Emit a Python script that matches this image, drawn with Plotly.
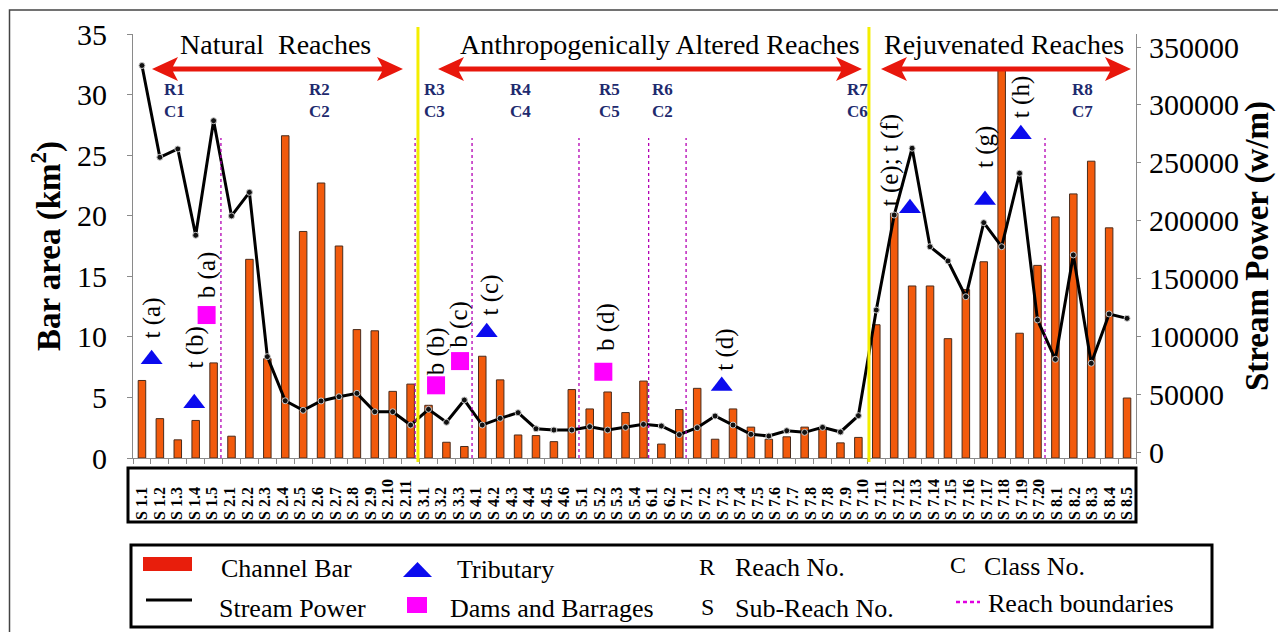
import plotly.graph_objects as go

# ---------------- data ----------------
sub_reaches = [
    "S 1.1", "S 1.2", "S 1.3", "S 1.4", "S 1.5",
    "S 2.1", "S 2.2", "S 2.3", "S 2.4", "S 2.5", "S 2.6", "S 2.7", "S 2.8", "S 2.9", "S 2.10", "S 2.11",
    "S 3.1", "S 3.2", "S 3.3",
    "S 4.1", "S 4.2", "S 4.3", "S 4.4", "S 4.5", "S 4.6",
    "S 5.1", "S 5.2", "S 5.3", "S 5.4",
    "S 6.1", "S 6.2",
    "S 7.1", "S 7.2", "S 7.3", "S 7.4", "S 7.5", "S 7.6", "S 7.7", "S 7.8", "S 7.9", "S 7.10",
    "S 7.11", "S 7.12", "S 7.13", "S 7.14", "S 7.15", "S 7.16", "S 7.17", "S 7.18", "S 7.19", "S 7.20",
    "S 8.1", "S 8.2", "S 8.3", "S 8.4", "S 8.5",
]

# labels exactly as printed in the table under the chart
table_labels = [
    "S 1.1", "S 1.2", "S 1.3", "S 1.4", "S 1.5",
    "S 2.1", "S 2.2", "S 2.3", "S 2.4", "S 2.5", "S 2.6", "S 2.7", "S 2.8", "S 2.9", "S 2.10", "S 2.11",
    "S 3.1", "S 3.2", "S 3.3",
    "S 4.1", "S 4.2", "S 4.3", "S 4.4", "S 4.5", "S 4.6",
    "S 5.1", "S 5.2", "S 5.3", "S 5.4",
    "S 6.1", "S 6.2",
    "S 7.1", "S 7.2", "S 7.3", "S 7.4", "S 7.5", "S 7.6", "S 7.7", "S 7.8", "S 7.8", "S 7.9", "S 7.10",
    "S 7.11", "S 7.12", "S 7.13", "S 7.14", "S 7.15", "S 7.16", "S 7.17", "S 7.18", "S 7.19", "S 7.20",
    "S 8.1", "S 8.2", "S 8.3", "S 8.4", "S 8.5",
]

bar_area = [
    6.4, 3.25, 1.5, 3.1, 7.85,
    1.8, 16.4, 8.2, 26.6, 18.7, 22.7, 17.5, 10.6, 10.5, 5.5, 6.1,
    4.35, 1.3, 0.95,
    8.4, 6.45, 1.9, 1.85, 1.35, 5.65,
    4.05, 5.45, 3.75, 6.35,
    1.15, 4.0,
    5.75, 1.55, 4.05, 2.55, 1.55, 1.75, 2.55, 2.35, 1.25, 1.7,
    11.0, 20.2, 14.2, 14.2, 9.85, 13.9, 16.2, 32.2, 10.3, 15.9,
    19.9, 21.8, 24.5, 19.0, 4.95,
]

stream_power = [
    334000, 254700, 261900, 187300, 286300,
    204000, 224400, 82400, 44300, 36000, 44100, 47800, 50700, 34800, 34800, 23300,
    36900, 25700, 44900,
    23300, 29100, 34000, 20100, 19000, 19000,
    21900, 19000, 21300, 23900,
    22500, 15000,
    21000, 31100, 23300, 15300, 13800, 18400, 17000, 21300, 17300, 31400,
    122700, 204800, 262500, 177400, 165100, 134200, 198200, 177400, 240900, 114100,
    80100, 170300, 76700, 119300, 115500,
]

trib_labels = ["t (a)", "t (b)", "t (c)", "t (d)", "t (e); t (f)", "t (g)", "t (h)"]
trib_x = [0.54, 2.92, 19.25, 32.37, 42.88, 47.07, 49.07]
trib_y = [8.15, 4.52, 10.38, 5.94, 20.61, 21.3, 26.72]

dam_labels = ["b (a)", "b (b)", "b (c)", "b (d)"]
dam_x = [3.61, 16.42, 17.76, 25.76]
dam_y = [11.8, 6.0, 8.0, 7.12]

reach_names = ["R1", "R2", "R3", "R4", "R5", "R6", "R7", "R8"]
class_names = ["C1", "C2", "C3", "C4", "C5", "C2", "C6", "C7"]
reach_label_x = [1.79, 9.94, 16.31, 21.16, 26.13, 29.09, 39.96, 52.54]

reach_boundaries = [4.41, 15.25, 18.43, 24.4, 28.29, 30.38, 50.42]
zone_dividers = [15.41, 40.59]
zone_names = ["Natural  Reaches", "Anthropogenically Altered Reaches", "Rejuvenated Reaches"]
zone_text_x = [7.43, 28.9, 48.13]

sp_ticks = [0, 50000, 100000, 150000, 200000, 250000, 300000, 350000]

# ---------------- geometry / style ----------------
W, H = 1278, 632
ML, MR, MT, MB = 133, 142, 34, 5
PW = W - ML - MR
PH = H - MT - MB
FONT = "Liberation Serif"


def pxx(x):
    return (x - ML) / PW


def pxy(y):
    return (H - MB - y) / PH


BAR_COL = "#F25A0C"
TRI_COL = "#0B0BEE"
DAM_COL = "#FF00FF"
NAVY = "#1E2A6E"
ARROW_COL = "#E8170C"

fig = go.Figure()

idx = list(range(len(sub_reaches)))

fig.add_trace(go.Bar(
    x=idx, y=bar_area, width=0.42, hovertext=sub_reaches,
    marker=dict(color=BAR_COL, line=dict(color="#4a2c1c", width=1)),
    name="Channel Bar", showlegend=False,
))

fig.add_trace(go.Scatter(
    x=idx, y=stream_power, yaxis="y2", mode="lines+markers", hovertext=sub_reaches,
    line=dict(color="black", width=3),
    marker=dict(color="#111111", size=6, line=dict(color="#c8c8c8", width=1)),
    name="Stream Power", showlegend=False,
))

fig.add_trace(go.Scatter(
    x=trib_x, y=trib_y, mode="markers", hovertext=trib_labels,
    marker=dict(symbol="triangle-up", color=TRI_COL, size=19),
    name="Tributary", showlegend=False,
))

fig.add_trace(go.Scatter(
    x=dam_x, y=dam_y, mode="markers", hovertext=dam_labels,
    marker=dict(symbol="square", color=DAM_COL, size=18),
    name="Dams and Barrages", showlegend=False,
))

# invisible trace to carry the label-table axis
fig.add_trace(go.Scatter(
    x=list(range(len(table_labels))), y=[0] * len(table_labels), xaxis="x2",
    mode="markers", marker=dict(opacity=0), hoverinfo="skip", showlegend=False,
))

shapes = []
annotations = []

# zone dividers (yellow)
for xd in zone_dividers:
    shapes.append(dict(type="line", xref="x", yref="paper", x0=xd, x1=xd,
                       y0=pxy(462), y1=pxy(27), line=dict(color="#F4EE00", width=3)))
# reach boundaries (dotted magenta)
for xb in reach_boundaries:
    shapes.append(dict(type="line", xref="x", yref="paper", x0=xb, x1=xb,
                       y0=pxy(458), y1=pxy(138), line=dict(color="#B400B4", width=1.3, dash="dot")))


# double-headed red arrows (pixel layout of the reference)
def double_arrow(xa, xb, yc, head=26, half=12, shaft=2.6, notch=21):
    pts = [(xa, yc), (xa + head, yc - half), (xa + notch, yc - shaft),
           (xb - notch, yc - shaft), (xb - head, yc - half), (xb, yc),
           (xb - head, yc + half), (xb - notch, yc + shaft),
           (xa + notch, yc + shaft), (xa + head, yc + half)]
    path = "M " + " L ".join(f"{pxx(a):.5f},{pxy(b):.5f}" for a, b in pts) + " Z"
    return dict(type="path", xref="paper", yref="paper", path=path,
                fillcolor=ARROW_COL, line=dict(width=0))


for xa, xb in [(152, 403), (438, 862), (881, 1131)]:
    shapes.append(double_arrow(xa, xb, 69))

for name, xt in zip(zone_names, zone_text_x):
    annotations.append(dict(x=xt, y=34.1, xref="x", yref="y", text=name, showarrow=False,
                            font=dict(family=FONT, size=28, color="black")))

# reach / class labels
for rn, cn, xr in zip(reach_names, class_names, reach_label_x):
    annotations.append(dict(x=xr, y=29.55, xref="x", yref="y",
                            text=f"<b>{rn}<br>{cn}</b>", showarrow=False,
                            font=dict(family=FONT, size=17, color=NAVY)))

# marker labels (rotated)
trib_off = [(0, 19), (1, 33), (3, 15), (3, 13), (-20, 0), (0, 30), (0, 14)]
for lab, xv, yv, (dx, dy) in zip(trib_labels, trib_x, trib_y, trib_off):
    annotations.append(dict(x=xv, y=yv, xref="x", yref="y", text=lab, textangle=-90,
                            showarrow=False, xanchor="center", yanchor="bottom",
                            xshift=dx, yshift=dy,
                            font=dict(family=FONT, size=25, color="black")))
dam_off = [(0, 15), (0, 8), (-1, 11), (2, 19)]
for lab, xv, yv, (dx, dy) in zip(dam_labels, dam_x, dam_y, dam_off):
    annotations.append(dict(x=xv, y=yv, xref="x", yref="y", text=lab, textangle=-90,
                            showarrow=False, xanchor="center", yanchor="bottom",
                            xshift=dx, yshift=dy,
                            font=dict(family=FONT, size=25, color="black")))

# label table box
shapes.append(dict(type="rect", xref="paper", yref="paper", x0=pxx(128), x1=pxx(1136),
                   y0=pxy(522), y1=pxy(468), line=dict(color="black", width=3)))

# legend box and items
shapes.append(dict(type="rect", xref="paper", yref="paper", x0=pxx(131), x1=pxx(1212),
                   y0=pxy(627), y1=pxy(545), line=dict(color="black", width=3)))
shapes.append(dict(type="rect", xref="paper", yref="paper", x0=pxx(143), x1=pxx(192),
                   y0=pxy(571), y1=pxy(557), fillcolor="#E81E0C", line=dict(width=0)))
shapes.append(dict(type="line", xref="paper", yref="paper", x0=pxx(146), x1=pxx(192),
                   y0=pxy(600), y1=pxy(600), line=dict(color="black", width=3)))
shapes.append(dict(type="path", xref="paper", yref="paper",
                   path=f"M {pxx(403)},{pxy(577)} L {pxx(432)},{pxy(577)} L {pxx(417.5)},{pxy(562)} Z",
                   fillcolor=TRI_COL, line=dict(width=0)))
shapes.append(dict(type="rect", xref="paper", yref="paper", x0=pxx(407), x1=pxx(427),
                   y0=pxy(613), y1=pxy(597), fillcolor=DAM_COL, line=dict(width=0)))
shapes.append(dict(type="line", xref="paper", yref="paper", x0=pxx(956), x1=pxx(980),
                   y0=pxy(602), y1=pxy(602), line=dict(color="#E000E0", width=2.5, dash="4px,3px")))

leg_text = [
    ("Channel Bar", 219, 568, "left", 26),
    ("Stream Power", 217, 608, "left", 26),
    ("Tributary", 455, 569, "left", 26),
    ("Dams and Barrages", 448, 608, "left", 26),
    ("R", 707, 567, "center", 24),
    ("Reach No.", 733, 567, "left", 26),
    ("S", 707, 607, "center", 24),
    ("Sub-Reach No.", 733, 608, "left", 26),
    ("C", 958, 565, "center", 24),
    ("Class No.", 982, 566, "left", 26),
    ("Reach boundaries", 986, 603, "left", 26),
]
for t, x, y, xa, fs in leg_text:
    annotations.append(dict(x=pxx(x), y=pxy(y), xref="paper", yref="paper", text=t,
                            showarrow=False, xanchor=xa, yanchor="middle",
                            font=dict(family=FONT, size=fs, color="black")))

# outer frame
shapes.append(dict(type="rect", xref="paper", yref="paper", x0=pxx(9.5), x1=pxx(1300),
                   y0=pxy(660), y1=pxy(10), line=dict(color="#444444", width=1.5), layer="below"))

axis_grey = "#8a8a8a"
fig.update_layout(
    template="none",
    width=W, height=H, autosize=False,
    margin=dict(l=ML, r=MR, t=MT, b=MB, autoexpand=False),
    paper_bgcolor="white", plot_bgcolor="white",
    font=dict(family=FONT, color="black"),
    showlegend=False,
    xaxis=dict(domain=[0, 1], range=[-0.5, len(sub_reaches) - 0.5], automargin=False,
               tickvals=[i - 0.5 for i in range(len(sub_reaches) + 1)],
               ticks="outside", ticklen=5, tickcolor=axis_grey, showticklabels=False,
               showline=True, linecolor=axis_grey, linewidth=1,
               showgrid=False, zeroline=False),
    xaxis2=dict(overlaying="x", anchor="free", position=pxy(520), side="top", automargin=False,
                range=[-0.5, len(table_labels) - 0.5],
                tickvals=list(range(len(table_labels))), ticktext=table_labels,
                tickangle=-90, ticks="", showline=False, showgrid=False, zeroline=False,
                tickfont=dict(family=FONT, size=16, color="black", weight="bold")),
    yaxis=dict(domain=[pxy(458), 1], range=[0, 35], dtick=5, automargin=False,
               ticks="outside", ticklen=5, tickcolor=axis_grey,
               showline=True, linecolor=axis_grey, linewidth=1,
               showgrid=False, zeroline=False, ticklabelstandoff=14,
               tickfont=dict(family=FONT, size=30, color="black"),
               title=dict(text="<b>Bar area (km<sup>2</sup>)</b>",
                          font=dict(family=FONT, size=33, color="black"), standoff=6)),
    yaxis2=dict(overlaying="y", side="right", anchor="x", automargin=False,
                range=[-5185, 361235], tickvals=sp_ticks, tickformat="d",
                ticks="outside", ticklen=4, tickcolor=axis_grey,
                showline=True, linecolor=axis_grey, linewidth=1,
                showgrid=False, zeroline=False, ticklabelstandoff=2,
                tickfont=dict(family=FONT, size=30, color="black"),
                title=dict(text="<b>Stream Power (w/m)</b>",
                           font=dict(family=FONT, size=33, color="black"), standoff=2)),
    shapes=shapes,
    annotations=annotations,
)

fig.write_html("out.html",
               config={"displayModeBar": False, "responsive": False},
               post_script="document.body.style.margin='0px';")
